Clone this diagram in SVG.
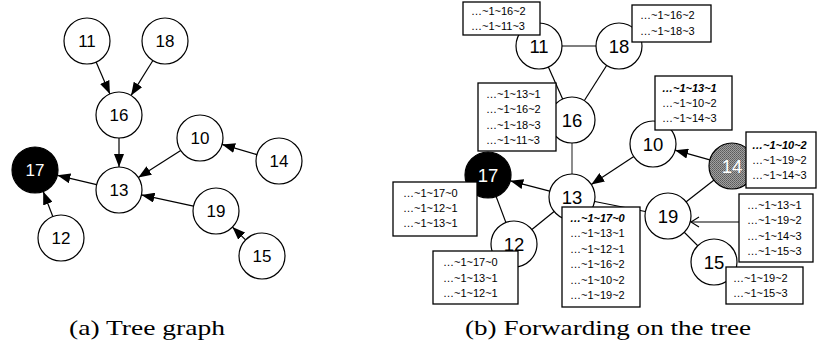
<svg xmlns="http://www.w3.org/2000/svg" width="817" height="350" viewBox="0 0 817 350">
<style>
.n{fill:#fff;stroke:#000;stroke-width:1.2}
.blk{fill:#000;stroke:#000;stroke-width:1.2}
.lbl{font-family:"Liberation Sans",Arial,sans-serif;text-anchor:middle;fill:#000}
.la{font-size:17px}
.lb{font-size:18.5px}
.w{fill:#fff}
.e{stroke:#000;stroke-width:1.2;fill:none}
.box{fill:#fff;stroke:#000;stroke-width:1.3}
.bt{font-family:"Liberation Sans",Arial,sans-serif;font-size:11px;fill:#000}
.bi{font-weight:bold;font-style:italic}
.cap{font-family:"Liberation Serif","Times New Roman",serif;font-size:22px;fill:#000}
</style>
<defs>
<marker id="ah" markerUnits="userSpaceOnUse" markerWidth="14" markerHeight="10" refX="13" refY="5" orient="auto">
<path d="M0,0 L13,5 L0,10 z" fill="#000"/>
</marker>
<marker id="oh" markerUnits="userSpaceOnUse" markerWidth="12" markerHeight="12" refX="9" refY="6" orient="auto">
<path d="M1,1 L9,6 L1,11" fill="none" stroke="#000" stroke-width="1.1"/>
</marker>
<pattern id="dots" width="2" height="2" patternUnits="userSpaceOnUse">
<rect width="2" height="2" fill="#a0a0a0"/>
<rect width="1" height="1" fill="#5a5a5a"/>
<rect x="1" y="1" width="1" height="1" fill="#6a6a6a"/>
</pattern>
</defs>

<!-- (a) Tree graph -->
<g id="edges-a">
<line class="e" x1="96.1" y1="62.1" x2="109.9" y2="93.9" marker-end="url(#ah)"/>
<line class="e" x1="152.9" y1="60.5" x2="131.1" y2="95.4" marker-end="url(#ah)"/>
<line class="e" x1="119" y1="138" x2="119" y2="167" marker-end="url(#ah)"/>
<line class="e" x1="180.7" y1="150.4" x2="138.3" y2="177.6" marker-end="url(#ah)"/>
<line class="e" x1="256.9" y1="154.6" x2="222.1" y2="144.4" marker-end="url(#ah)"/>
<line class="e" x1="96.6" y1="184.7" x2="57.4" y2="175.3" marker-end="url(#ah)"/>
<line class="e" x1="52.8" y1="216.5" x2="43.2" y2="191.5" marker-end="url(#ah)"/>
<line class="e" x1="193.5" y1="206.1" x2="141.5" y2="194.9" marker-end="url(#ah)"/>
<line class="e" x1="245.6" y1="239.9" x2="232.4" y2="227.1" marker-end="url(#ah)"/>
</g>
<g id="a11"><circle class="n" cx="87" cy="41" r="23"/><text class="lbl la" x="87" y="47">11</text></g>
<g id="a18"><circle class="n" cx="165" cy="41" r="23"/><text class="lbl la" x="165" y="47">18</text></g>
<g id="a16"><circle class="n" cx="119" cy="115" r="23"/><text class="lbl la" x="119" y="121">16</text></g>
<g id="a10"><circle class="n" cx="200" cy="138" r="23"/><text class="lbl la" x="200" y="144">10</text></g>
<g id="a14"><circle class="n" cx="279" cy="161" r="23"/><text class="lbl la" x="279" y="167">14</text></g>
<g id="a17"><circle class="blk" cx="35" cy="170" r="23"/><text class="lbl la w" x="35" y="176">17</text></g>
<g id="a13"><circle class="n" cx="119" cy="190" r="23"/><text class="lbl la" x="119" y="196">13</text></g>
<g id="a19"><circle class="n" cx="216" cy="211" r="23"/><text class="lbl la" x="216" y="217">19</text></g>
<g id="a12"><circle class="n" cx="61" cy="238" r="23"/><text class="lbl la" x="61" y="244">12</text></g>
<g id="a15"><circle class="n" cx="262" cy="256" r="23"/><text class="lbl la" x="262" y="262">15</text></g>

<!-- (b) Forwarding on the tree -->
<g id="edges-b">
<line class="e" x1="539" y1="46" x2="619" y2="46"/>
<line class="e" x1="539" y1="46" x2="572" y2="120"/>
<line class="e" x1="619" y1="46" x2="572" y2="120"/>
<line x1="572" y1="120" x2="572" y2="197" stroke="#707070" stroke-width="1.6"/>
<line class="e" x1="488" y1="175" x2="514" y2="244"/>
<line class="e" x1="572" y1="197" x2="514" y2="244"/>
<line class="e" x1="572" y1="197" x2="668" y2="216"/>
<line class="e" x1="668" y1="216" x2="732" y2="166"/>
<line class="e" x1="668" y1="216" x2="714" y2="262"/>
<line class="e" x1="633.8" y1="156.6" x2="591.3" y2="184.4" marker-end="url(#ah)"/>
<line class="e" x1="709.8" y1="159.8" x2="675.1" y2="150.2" marker-end="url(#ah)"/>
<line class="e" x1="549.7" y1="191.2" x2="510.3" y2="180.8" marker-end="url(#ah)"/>
<line class="e" x1="739" y1="222" x2="691" y2="222" marker-end="url(#oh)"/>
</g>
<g id="b11"><circle class="n" cx="539" cy="46" r="23"/><text class="lbl lb" x="539" y="52.5">11</text></g>
<g id="b18"><circle class="n" cx="619" cy="46" r="23"/><text class="lbl lb" x="619" y="52.5">18</text></g>
<g id="b16"><circle class="n" cx="572" cy="120" r="23"/><text class="lbl lb" x="572" y="126.5">16</text></g>
<g id="b10"><circle class="n" cx="653" cy="144" r="23"/><text class="lbl lb" x="653" y="150.5">10</text></g>
<g id="b17"><circle class="blk" cx="488" cy="175" r="23"/><text class="lbl lb w" x="488" y="181.5">17</text></g>
<g id="b13"><circle class="n" cx="572" cy="197" r="23"/><text class="lbl lb" x="572" y="203.5">13</text></g>
<g id="b14"><circle cx="732" cy="166" r="23" fill="url(#dots)" stroke="#000" stroke-width="1.2"/><text class="lbl lb w" x="732" y="172.5">14</text></g>
<g id="b19"><circle class="n" cx="668" cy="216" r="23"/><text class="lbl lb" x="668" y="222.5">19</text></g>
<g id="b12"><circle class="n" cx="514" cy="244" r="23"/><text class="lbl lb" x="514" y="250.5">12</text></g>
<g id="b15"><circle class="n" cx="714" cy="262" r="23"/><text class="lbl lb" x="714" y="268.5">15</text></g>

<g id="t11"><rect class="box" x="463" y="2" width="77" height="33"/>
<text class="bt" x="471" y="15">…~1~16~2</text><text class="bt" x="471" y="30">…~1~11~3</text></g>
<g id="t18"><rect class="box" x="632" y="5" width="79" height="37"/>
<text class="bt" x="640" y="19">…~1~16~2</text><text class="bt" x="640" y="35">…~1~18~3</text></g>
<g id="t16"><rect class="box" x="478" y="83" width="78" height="68"/>
<text class="bt" x="486" y="98">…~1~13~1</text><text class="bt" x="486" y="113">…~1~16~2</text><text class="bt" x="486" y="129">…~1~18~3</text><text class="bt" x="486" y="144">…~1~11~3</text></g>
<g id="t10"><rect class="box" x="655" y="76" width="77" height="54"/>
<text class="bt bi" x="662" y="92">…~1~13~1</text><text class="bt" x="662" y="107">…~1~10~2</text><text class="bt" x="662" y="122">…~1~14~3</text></g>
<g id="t14"><rect class="box" x="746" y="132" width="70" height="56"/>
<text class="bt bi" x="752" y="149">…~1~10~2</text><text class="bt" x="752" y="164">…~1~19~2</text><text class="bt" x="752" y="179">…~1~14~3</text></g>
<g id="t19"><rect class="box" x="739" y="194" width="74" height="68"/>
<text class="bt" x="747" y="209">…~1~13~1</text><text class="bt" x="747" y="224">…~1~19~2</text><text class="bt" x="747" y="240">…~1~14~3</text><text class="bt" x="747" y="255">…~1~15~3</text></g>
<g id="t15"><rect class="box" x="726" y="267" width="77" height="37"/>
<text class="bt" x="733" y="282">…~1~19~2</text><text class="bt" x="733" y="297">…~1~15~3</text></g>
<g id="t17"><rect class="box" x="393" y="182" width="84" height="54"/>
<text class="bt" x="403" y="197">…~1~17~0</text><text class="bt" x="403" y="212">…~1~12~1</text><text class="bt" x="403" y="227">…~1~13~1</text></g>
<g id="t12"><rect class="box" x="433" y="251" width="85" height="53"/>
<text class="bt" x="443" y="266">…~1~17~0</text><text class="bt" x="443" y="282">…~1~13~1</text><text class="bt" x="443" y="297">…~1~12~1</text></g>
<g id="t13"><rect class="box" x="562" y="207" width="78" height="100"/>
<text class="bt bi" x="570" y="222">…~1~17~0</text><text class="bt" x="570" y="237">…~1~13~1</text><text class="bt" x="570" y="253">…~1~12~1</text><text class="bt" x="570" y="268">…~1~16~2</text><text class="bt" x="570" y="284">…~1~10~2</text><text class="bt" x="570" y="299">…~1~19~2</text></g>

<g id="captions">
<text class="cap" x="69" y="335" textLength="156" lengthAdjust="spacingAndGlyphs">(a) Tree graph</text>
<text class="cap" x="465" y="335" textLength="286" lengthAdjust="spacingAndGlyphs">(b) Forwarding on the tree</text>
</g>
</svg>
